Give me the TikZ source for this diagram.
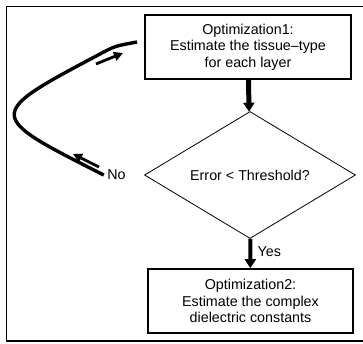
\documentclass[tikz,border=0pt]{standalone}
\usepackage{fontspec}
\setmainfont{Liberation Sans}
\usetikzlibrary{arrows.meta,positioning,shapes.geometric}
\tikzset{
  stepbox/.style={draw,line width=1.6pt,minimum width=206pt,minimum height=64pt,align=center,inner sep=2pt},
  decision/.style={draw,diamond,line width=0.8pt,minimum width=211pt,minimum height=127pt,aspect=1.7,inner sep=0pt},
  flow/.style={line width=4pt,-{Triangle[width=11pt,length=9pt]}},
  hint/.style={line width=2.8pt,-{Triangle[width=9pt,length=9pt]}},
}
\begin{document}
\begin{tikzpicture}[x=1pt,y=-1pt,font=\fontsize{14.3}{16.5}\selectfont]
\useasboundingbox (0,0) rectangle (363,343);
% frame, open to the right
\draw[line width=1.5pt] (366,6.5) -- (6.5,6.5) -- (6.5,341) -- (366,341);
\node[stepbox] (opt1) at (248,47) {Optimization1:\\Estimate the tissue–type\\for each layer};
\node[decision] (err) at (250,175) {Error < Threshold?};
\node[stepbox,minimum width=205pt] (opt2) at (250.5,301) {Optimization2:\\Estimate the complex\\dielectric constants};
\draw[flow,line width=5pt] (opt1) -- (err);
\draw[flow] (err) -- node[right=2pt,pos=0.45] {Yes} (opt2);
% loop back on "No"
\node[left=15pt of err.west] (no) {No};
\coordinate (back) at (137,42);
\draw[line width=3.4pt] (no.west) .. controls (-15,115) .. (100,54) .. controls (115,46) .. (back);
\draw[hint] (96,64) -- (123,53);
\draw[hint] (99,167) -- (73,154);
\end{tikzpicture}
\end{document}
